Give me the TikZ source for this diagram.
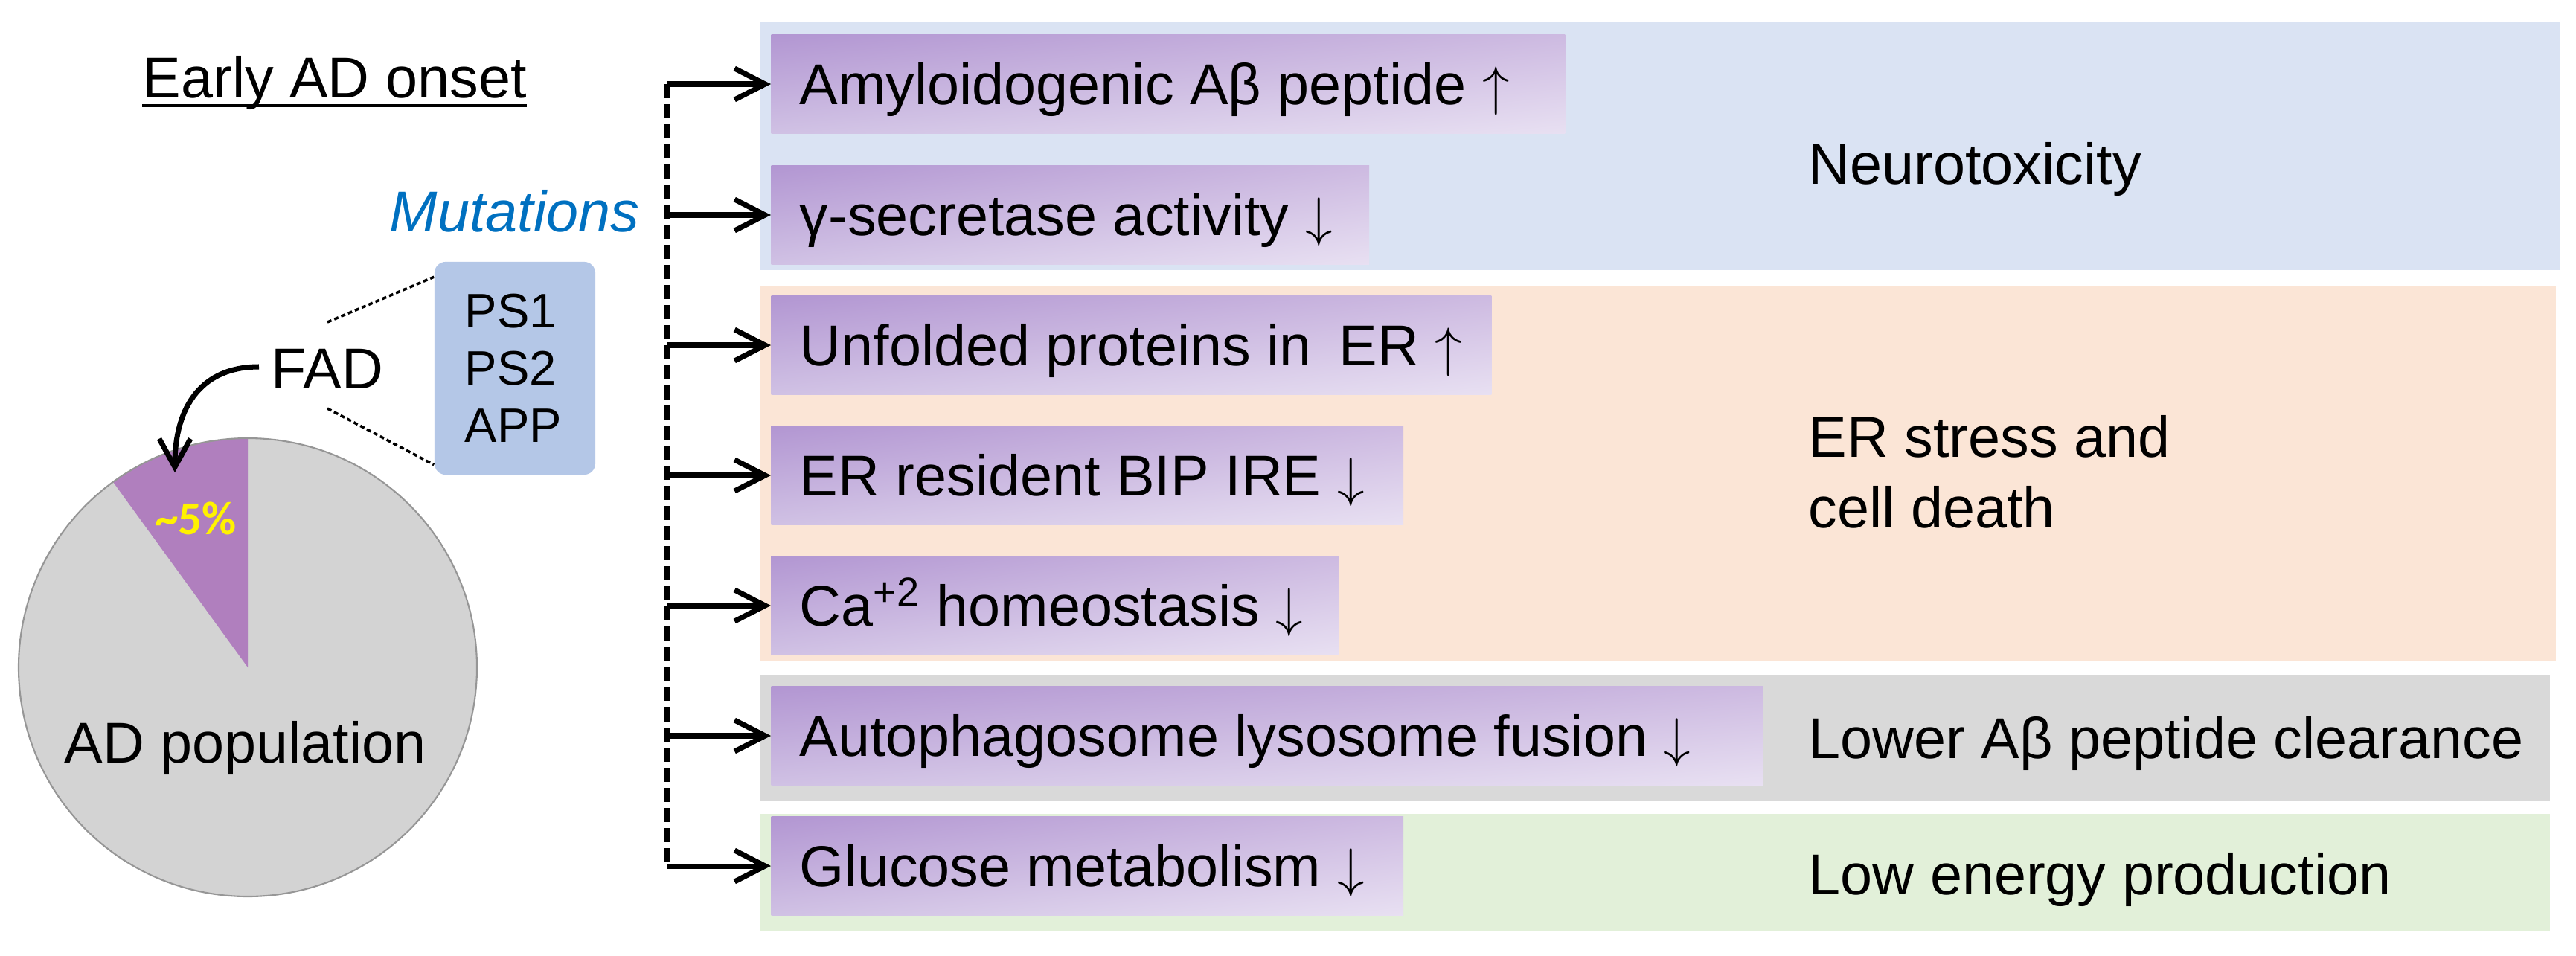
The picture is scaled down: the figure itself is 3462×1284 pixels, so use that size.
\documentclass[tikz,border=0pt]{standalone}
\usepackage{fontspec}
\setmainfont{Liberation Sans}
\newfontfamily\pctfont{Carlito}
\usetikzlibrary{arrows.meta,calc,shadings}
\definecolor{bgblue}{RGB}{218,227,243}
\definecolor{bgorange}{RGB}{251,229,214}
\definecolor{bggray}{RGB}{217,217,217}
\definecolor{bggreen}{RGB}{226,240,217}
\definecolor{piegray}{RGB}{211,211,211}
\definecolor{pieedge}{RGB}{150,150,150}
\definecolor{piepurple}{RGB}{176,127,190}
\definecolor{psblue}{RGB}{180,199,231}
\definecolor{mutblue}{RGB}{0,112,192}
\definecolor{pul}{RGB}{178,150,210}
\definecolor{pur}{RGB}{205,186,225}
\definecolor{pll}{RGB}{208,193,228}
\definecolor{plr}{RGB}{232,224,242}
\newcommand{\upar}{\ $\uparrow$}
\newcommand{\dnar}{\ $\downarrow$}
\tikzset{
  mainfont/.style={font=\fontsize{22}{26}\selectfont},
  lbl/.style={mainfont, anchor=base west, inner sep=0pt},
  effbox/.style={mainfont, anchor=west, minimum height=13.3mm, inner xsep=3.8mm,
    inner ysep=0pt, text height=5.4mm, text depth=0pt,
    upper left=pul, upper right=pur, lower left=pll, lower right=plr},
  arr/.style={line width=2pt, -{Straight Barb[length=4.1mm, width=4.2mm, line width=2pt]}},
  trunkdash/.style={line width=2pt, dash pattern=on 1.9mm off 0.8mm},
  thindash/.style={line width=1pt, dash pattern=on 0.6mm off 0.4mm},
  curvarr/.style={line width=2pt, -{Straight Barb[length=3.8mm, width=4.2mm, line width=2pt]}},
}
\begin{document}
\begin{tikzpicture}[x=0.01cm, y=-0.01cm]
\useasboundingbox (0,0) rectangle (3462,1284);
% background bands
\fill[bgblue]   (1022,30)   rectangle (3440,363);
\fill[bgorange] (1022,385)  rectangle (3435,888);
\fill[bggray]   (1022,907)  rectangle (3427,1076);
\fill[bggreen]  (1022,1094) rectangle (3427,1252);
% effect boxes
\node[effbox] (b1) at (1036,113)  {\makebox[99.0mm][l]{Amyloidogenic Aβ peptide\upar}};
\node[effbox] (b2) at (1036,289)  {\makebox[72.7mm][l]{γ-secretase activity\dnar}};
\node[effbox] (b3) at (1036,464)  {\makebox[89.1mm][l]{Unfolded proteins in\hspace{0.2em} ER\upar}};
\node[effbox] (b4) at (1036,639)  {\makebox[77.3mm][l]{ER resident BIP IRE\dnar}};
\node[effbox] (b5) at (1036,814)  {\makebox[68.6mm][l]{Ca\textsuperscript{+2} homeostasis\dnar}};
\node[effbox] (b6) at (1036,989)  {\makebox[125.6mm][l]{Autophagosome lysosome fusion\dnar}};
\node[effbox] (b7) at (1036,1164) {\makebox[77.3mm][l]{Glucose metabolism\dnar}};
% outcome labels
\node[lbl] (neuro) at (2430,247)  {Neurotoxicity};
\node[lbl] (er1)   at (2430,614)  {ER stress and};
\node[lbl] (er2)   at (2430,709)  {cell death};
\node[lbl] (clear) at (2430,1019) {Lower Aβ peptide clearance};
\node[lbl] (energy) at (2430,1202) {Low energy production};
% trunk and arrows
\coordinate (trunk) at (897,0);
\draw[trunkdash] (b1.west -| trunk) -- (b7.west -| trunk);
\foreach \b in {b1,b2,b3,b4,b5,b6,b7}
  \draw[arr] (\b.west -| trunk) -- (\b.west);
% left part
\node[lbl] (early) at (191,131) {Early AD onset};
\draw[line width=1.1pt] ([yshift=-3.1pt]early.base west) -- ([yshift=-3.1pt]early.base east);
\node[lbl, font=\fontsize{22}{26}\selectfont\itshape, text=mutblue] (mut) at (523,311) {Mutations};
\node[fill=psblue, rounded corners=1.5mm, minimum width=21.6mm, minimum height=28.6mm,
      text width=13.4mm, inner xsep=4.1mm, align=left,
      font=\fontsize{18.5}{21.9}\selectfont] (psbox) at (692,495) {PS1\\PS2\\APP};
\node[lbl] (fad) at (364,522) {FAD};
\coordinate (fadtop) at (440,433);
\coordinate (fadbot) at (440,549);
\draw[thindash] (fadtop) -- ($(psbox.north west)+(0,21)$);
\draw[thindash] (fadbot) -- ($(psbox.south west)+(0,-14)$);
% pie
\node[circle, fill=piegray, minimum size=61.6mm, inner sep=0pt] (pie) at (333,897) {};
\fill[piepurple] (pie.center) -- (333,589) arc[start angle=-90, end angle=-126, radius=308] -- cycle;
\draw[pieedge, line width=0.6pt] (pie.center) circle[radius=308];
\node[text=yellow, font=\pctfont\bfseries\fontsize{18}{20}\selectfont, inner sep=0pt] (pct) at (263,697) {\textasciitilde 5\%};
\node[lbl] (adpop) at (86,1025) {AD population};
\coordinate (fadstart) at (348,493);
\coordinate (fadtip) at (235,635);
\draw[curvarr] (fadstart) .. controls (272,493) and (235,545) .. (fadtip);
\end{tikzpicture}
\end{document}
